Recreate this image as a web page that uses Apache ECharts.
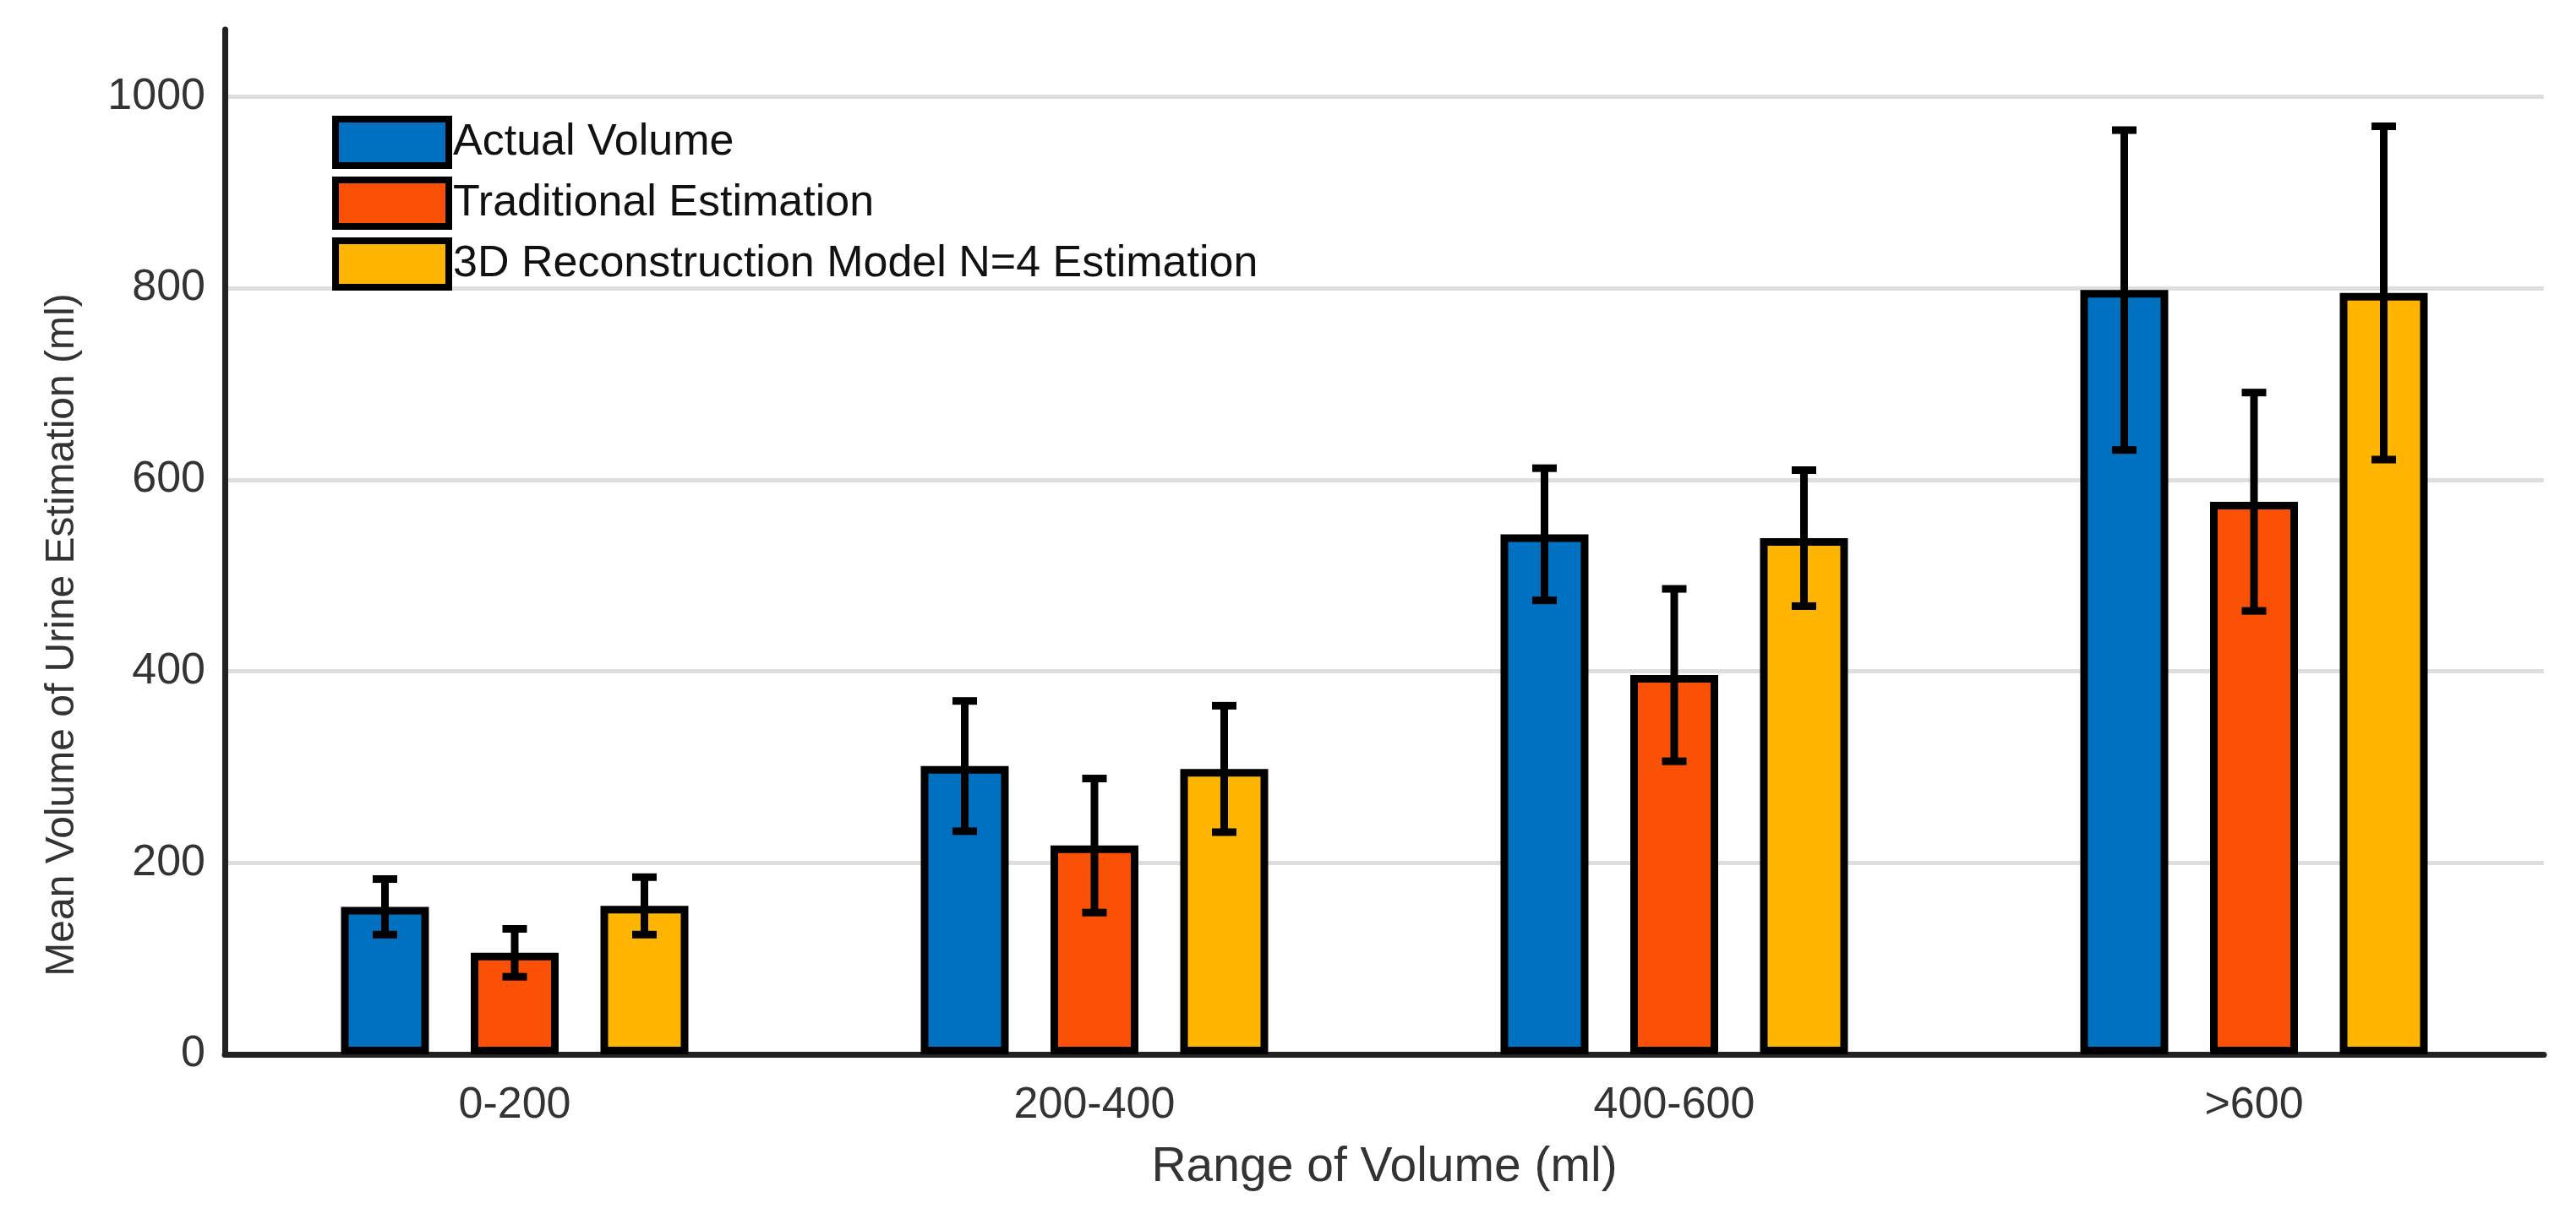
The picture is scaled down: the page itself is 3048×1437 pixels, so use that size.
<!DOCTYPE html>
<html>
<head>
<meta charset="utf-8">
<style>
  html, body { margin: 0; padding: 0; background: #ffffff; }
  #chart { width: 3048px; height: 1437px; }
</style>
<script src="https://cdn.jsdelivr.net/npm/echarts@6/dist/echarts.min.js"></script>
</head>
<body>
<div id="chart"></div>
<script>
// ---- data ----
const categories = ['0-200', '200-400', '400-600', '>600'];
const seriesNames = ['Actual Volume', 'Traditional Estimation', '3D Reconstruction Model N=4 Estimation'];
const actualMean = [154, 301, 543, 798];
const actualErr = [29, 68, 69, 167];
const traditionalMean = [106, 218, 396, 577];
const traditionalErr = [25, 70, 90, 114];
const reconMean = [155, 298, 539, 795];
const reconErr = [30, 66, 71, 174];
const yTicks = [0, 200, 400, 600, 800, 1000];

// ---- style ----
const colors = ['#0071C1', '#FA5107', '#FFB400'];
const BAR_W = 104;
const BAR_GAP_PX = 49.5;
const FONT = "'Liberation Sans', Arial, sans-serif";

const means = [actualMean, traditionalMean, reconMean];
const errs = [actualErr, traditionalErr, reconErr];

const chart = echarts.init(document.getElementById('chart'));

const barSeries = seriesNames.map((name, s) => ({
  name: name,
  type: 'bar',
  data: means[s],
  barWidth: BAR_W,
  barGap: (BAR_GAP_PX / BAR_W * 100).toFixed(2) + '%',
  itemStyle: { color: colors[s], borderColor: '#000000', borderWidth: 9 },
  emphasis: { disabled: true },
  z: 2
}));

const errData = [];
means.forEach((m, s) => {
  m.forEach((v, i) => {
    errData.push([i, v - errs[s][i], v + errs[s][i], s]);
  });
});

const errorSeries = {
  type: 'custom',
  name: 'err',
  data: errData,
  z: 5,
  silent: true,
  renderItem: function (params, api) {
    const i = api.value(0);
    const s = api.value(3);
    const offset = (s - 1) * (BAR_W + BAR_GAP_PX);
    const x = api.coord([i, 0])[0] + offset;
    const yLo = api.coord([i, api.value(1)])[1];
    const yHi = api.coord([i, api.value(2)])[1];
    const half = 14.5;
    const st = { stroke: '#000000', lineWidth: 9 };
    return {
      type: 'group',
      children: [
        { type: 'line', shape: { x1: x, y1: yLo, x2: x, y2: yHi }, style: st },
        { type: 'line', shape: { x1: x - half, y1: yHi, x2: x + half, y2: yHi }, style: st },
        { type: 'line', shape: { x1: x - half, y1: yLo, x2: x + half, y2: yLo }, style: st }
      ]
    };
  }
};

const option = {
  animation: false,
  backgroundColor: '#ffffff',
  grid: { left: 266, right: 38, top: 35, bottom: 189, containLabel: false },
  legend: {
    data: seriesNames,
    orient: 'vertical',
    left: 388,
    top: 132,
    itemWidth: 134,
    itemHeight: 55,
    itemGap: 9,
    icon: 'rect',
    selectedMode: false,
    itemStyle: { borderColor: '#000000', borderWidth: 8 },
    textStyle: { fontFamily: FONT, fontSize: 52, color: '#111111' }
  },
  xAxis: {
    type: 'category',
    data: categories,
    name: 'Range of Volume (ml)',
    nameLocation: 'middle',
    nameGap: 106,
    nameTextStyle: { fontFamily: FONT, fontSize: 57, color: '#333333' },
    axisLine: { lineStyle: { color: '#222222', width: 7 } },
    axisTick: { show: false },
    axisLabel: { fontFamily: FONT, fontSize: 52, color: '#333333', margin: 35 },
    splitLine: { show: false }
  },
  yAxis: {
    type: 'value',
    min: 0,
    max: 1070,
    interval: 200,
    name: 'Mean Volume of Urine Estimation (ml)',
    nameLocation: 'middle',
    nameRotate: 90,
    nameGap: 168,
    nameTextStyle: {
      fontFamily: FONT,
      fontSize: 48, color: '#333333', padding: [0, 220, 0, 0]
    },
    axisLine: { show: true, lineStyle: { color: '#222222', width: 7 } },
    axisTick: { show: false },
    axisLabel: {
      fontFamily: FONT, fontSize: 52, color: '#333333', margin: 23,
      showMaxLabel: false,
      formatter: function (v) { return yTicks.indexOf(v) >= 0 ? String(v) : ''; }
    },
    splitLine: { show: true, showMinLine: false, showMaxLine: false, lineStyle: { color: '#dedede', width: 5 } }
  },
  series: barSeries.concat([errorSeries])
};

chart.setOption(option);
</script>
</body>
</html>
